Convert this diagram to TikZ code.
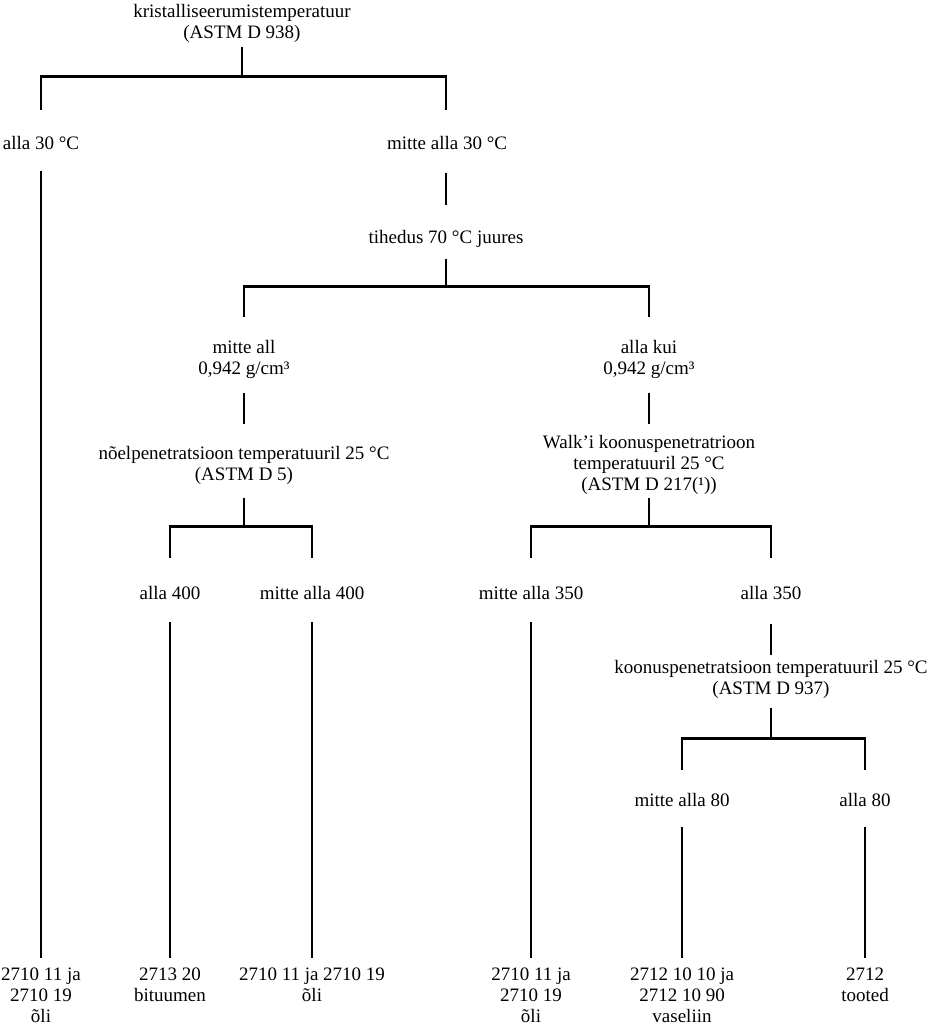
\documentclass[tikz,border=0pt]{standalone}
\usepackage{fontspec}
\setmainfont{Liberation Serif}
\usetikzlibrary{positioning}
\newcommand{\lblsize}{\fontsize{19}{21}\selectfont}
\tikzset{
  % text labels of the decision tree
  lbl/.style={font=\lblsize, align=center, inner sep=0pt, anchor=north},
  % tree connectors
  ln/.style={line width=2.5pt, line cap=butt}
}

\begin{document}
\begin{tikzpicture}[x=1pt, y=1pt]
  \useasboundingbox (0,0) rectangle (930,1027);

  %% -- Level 0: crystallisation ------------------------------------------
  \node[lbl] (krist) at (242,1023)
    {kristalliseerumistemperatuur\\(ASTM D 938)};
  \node[lbl] (alla30)  at (41,891)  {alla 30 °C};
  \node[lbl] (mitte30) at (447,891) {mitte alla 30 °C};

  \draw[ln] ([yshift=-4pt]krist.south) -- ++(0,-30) -| ([yshift=26pt]alla30.north);
  \draw[ln] ([yshift=-4pt]krist.south) -- ++(0,-30) -| ([xshift=-1pt,yshift=26pt]mitte30.north);

  %% -- Level 1: density --------------------------------------------------
  \node[lbl] (tih) at (446,797) {tihedus 70 °C juures};
  \draw[ln] ([xshift=-1pt,yshift=-23pt]mitte30.south) -- ([yshift=25pt]tih.north);

  \node[lbl] (mall) at (244,687) {mitte all\\0,942 g/cm³};
  \node[lbl] (akui) at (649,687) {alla kui\\0,942 g/cm³};

  \draw[ln] ([yshift=-11pt]tih.south) -- ++(0,-28) -| ([yshift=23pt]mall.north);
  \draw[ln] ([yshift=-11pt]tih.south) -- ++(0,-28) -| ([yshift=23pt]akui.north);

  %% -- Left branch: needle penetration ------------------------------------
  \node[lbl] (noel) at (244,581)
    {nõelpenetratsioon temperatuuril 25 °C\\(ASTM D 5)};
  \draw[ln] ([yshift=-14pt]mall.south) -- ([yshift=22pt]noel.north);

  \node[lbl] (alla400)  at (170,441) {alla 400};
  \node[lbl] (mitte400) at (312,441) {mitte alla 400};

  \draw[ln] ([yshift=-13pt]noel.south) -- ++(0,-29) -| ([yshift=28pt]alla400.north);
  \draw[ln] ([yshift=-13pt]noel.south) -- ++(0,-29) -| ([yshift=28pt]mitte400.north);

  %% -- Right branch: Walk's cone penetration ------------------------------
  \node[lbl] (walk) at (649,592)
    {Walk’i koonuspenetratrioon\\temperatuuril 25 °C\\(ASTM D 217(¹))};
  \draw[ln] ([yshift=-14pt]akui.south) -- ([yshift=11pt]walk.north);

  \node[lbl] (mitte350) at (531,441) {mitte alla 350};
  \node[lbl] (alla350)  at (771,441) {alla 350};

  \draw[ln] ([yshift=-3pt]walk.south) -- ++(0,-29) -| ([yshift=28pt]mitte350.north);
  \draw[ln] ([yshift=-3pt]walk.south) -- ++(0,-29) -| ([yshift=28pt]alla350.north);

  \node[lbl] (koon) at (771,367)
    {koonuspenetratsioon temperatuuril 25 °C\\(ASTM D 937)};
  \draw[ln] ([yshift=-24pt]alla350.south) -- ([yshift=5pt]koon.north);

  \node[lbl] (mitte80) at (682,234) {mitte alla 80};
  \node[lbl] (alla80)  at (865,234) {alla 80};

  \draw[ln] ([yshift=-9pt]koon.south) -- ++(0,-31) -| ([yshift=23pt]mitte80.north);
  \draw[ln] ([yshift=-9pt]koon.south) -- ++(0,-31) -| ([yshift=23pt]alla80.north);

  %% -- Leaves: tariff headings -------------------------------------------
  \node[lbl] (oli1)   at (41,59)  {2710 11 ja\\2710 19\\õli};
  \node[lbl] (bit)    at (170,59) {2713 20\\bituumen};
  \node[lbl] (oli2)   at (312,59) {2710 11 ja 2710 19\\õli};
  \node[lbl] (oli3)   at (531,59) {2710 11 ja\\2710 19\\õli};
  \node[lbl] (vasel)  at (682,59) {2712 10 10 ja\\2712 10 90\\vaseliin};
  \node[lbl] (tooted) at (865,59) {2712\\tooted};

  \draw[ln] ([yshift=-21pt]alla30.south)   -- ([yshift=10pt]oli1.north);
  \draw[ln] ([yshift=-22pt]alla400.south)  -- ([yshift=10pt]bit.north);
  \draw[ln] ([yshift=-22pt]mitte400.south) -- ([yshift=10pt]oli2.north);
  \draw[ln] ([yshift=-22pt]mitte350.south) -- ([yshift=10pt]oli3.north);
  \draw[ln] ([yshift=-20pt]mitte80.south)  -- ([yshift=10pt]vasel.north);
  \draw[ln] ([yshift=-20pt]alla80.south)   -- ([yshift=10pt]tooted.north);

\end{tikzpicture}
\end{document}
